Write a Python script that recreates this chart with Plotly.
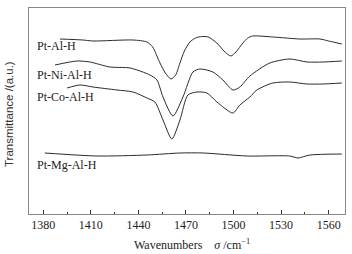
import plotly.graph_objects as go

# wavenumbers (cm-1) and transmittance (a.u.)
al_x = [1390.5, 1405, 1411.3, 1436.6, 1445.4, 1449, 1453.6, 1457, 1460.5, 1463.5, 1466.2, 1469,
        1472.5, 1476, 1480, 1484, 1489.5, 1494, 1498.3, 1501.5, 1505.9, 1509, 1512, 1524.8,
        1541.8, 1554.5, 1560, 1568.3]
al_y = [175, 174, 173, 174, 172, 167, 151, 141, 135, 139, 151, 163,
        172, 176, 177.5, 177, 171, 163, 158, 162, 171, 176, 178, 177,
        175, 175, 173, 170]

ni_x = [1387.4, 1401.2, 1409.4, 1422, 1434.7, 1447.3, 1451.7, 1455.5, 1461.8, 1468.1, 1474.4,
        1478.8, 1487, 1493.3, 1499.6, 1504, 1510.3, 1522.9, 1535.5, 1546.3, 1556.4, 1568.3]
ni_y = [149, 153, 152, 147, 146, 139, 134, 117, 98, 117, 142,
        145, 142, 134, 124, 127, 138, 151, 155, 152, 152, 153]

co_x = [1395, 1403.1, 1411.3, 1426.5, 1436.6, 1445.4, 1450.4, 1455.5, 1461.1, 1466.2, 1471.2,
        1476.9, 1483.2, 1489.5, 1499.6, 1504, 1510.3, 1514.7, 1524.8, 1535.5, 1546.3, 1556.4, 1568.3]
co_y = [126, 129, 127, 124, 122, 116, 112, 94, 75, 94, 119,
        122, 121, 112, 101, 109, 117, 124, 131, 132, 130, 130, 131]

mg_x = [1381, 1413.9, 1445.4, 1466.2, 1480.8, 1508.5, 1535.5, 1540.6, 1548.2, 1568.3]
mg_y = [61, 58, 59, 61, 61, 58, 58, 56, 59, 60]

labels = ['Pt-Al-H', 'Pt-Ni-Al-H', 'Pt-Co-Al-H', 'Pt-Mg-Al-H']
label_y = [168, 139, 117, 49]

serif = 'Liberation Serif'
linecol = '#2b2b2b'

fig = go.Figure()
for xs, ys in [(al_x, al_y), (ni_x, ni_y), (co_x, co_y), (mg_x, mg_y)]:
    fig.add_trace(go.Scatter(x=xs, y=ys, mode='lines',
                             line=dict(color=linecol, width=1, shape='spline', smoothing=0.7),
                             showlegend=False))

for txt, yy in zip(labels, label_y):
    fig.add_annotation(x=1374.8, y=yy, text=txt, showarrow=False, xanchor='left',
                       font=dict(family=serif, size=12, color='#222'))

# axis titles
fig.add_annotation(xref='paper', yref='paper', x=0.5, y=0, yshift=-30, xshift=5,
                   text='Wavenumbers\u00a0\u00a0\u00a0\u00a0<i>σ</i> /cm<sup>−1</sup>',
                   showarrow=False, yanchor='middle',
                   font=dict(family=serif, size=12, color='#222'))
fig.add_annotation(xref='paper', yref='paper', x=0, y=0.5, xshift=-20, yshift=-3,
                   text='Transmittance /(a.u.)', textangle=-90, showarrow=False,
                   xanchor='center', font=dict(family='Liberation Sans', size=11.5, color='#333'))

fig.update_layout(
    width=352, height=254,
    margin=dict(l=29, r=7, t=8, b=40),
    plot_bgcolor='white', paper_bgcolor='white',
    xaxis=dict(range=[1371, 1570.3], tick0=1380, dtick=30, ticks='inside', ticklen=4,
               tickcolor='#333', showgrid=False, zeroline=False, showline=True, mirror=True,
               linecolor='#888', linewidth=1,
               tickfont=dict(family=serif, size=12, color='#222'),
               minor=dict(ticks='inside', ticklen=2, dtick=15, tickcolor='#333')),
    yaxis=dict(range=[0, 206], showticklabels=False, ticks='', showgrid=False, zeroline=False,
               showline=True, mirror=True, linecolor='#888', linewidth=1),
)

# drop the browser's default body margin so the 352x254 figure fits the window
fig.write_html("out.html", config={'displayModeBar': False},
               post_script="document.body.style.margin='0';document.body.style.overflow='hidden';")
